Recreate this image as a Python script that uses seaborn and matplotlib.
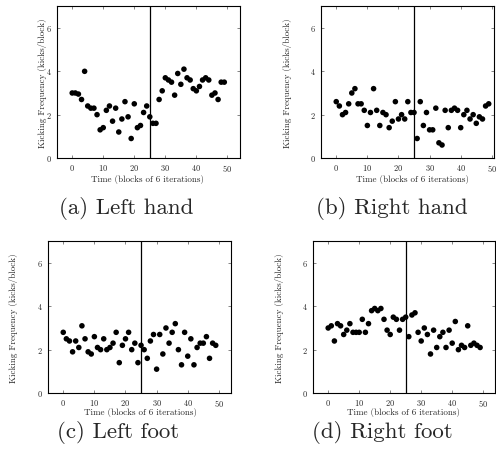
import numpy as np
import pandas as pd
import matplotlib
matplotlib.use("Agg")
import matplotlib.pyplot as plt
import seaborn as sns

# kicking frequency per block (0..49)
time_blocks = list(range(50))
left_hand = [3.0, 3.0, 2.95, 2.7, 4.0, 2.4, 2.3, 2.3, 2.0, 1.3,
             1.4, 2.2, 2.4, 1.7, 2.3, 1.2, 1.8, 2.6, 1.9, 0.9,
             2.5, 1.4, 1.5, 2.1, 2.4, 1.9, 1.6, 1.6, 2.7, 3.1,
             3.7, 3.6, 3.5, 2.9, 3.9, 3.4, 4.1, 3.7, 3.6, 3.2,
             3.1, 3.3, 3.6, 3.7, 3.6, 2.9, 3.0, 2.7, 3.5, 3.5]
right_hand = [2.6, 2.4, 2.0, 2.1, 2.5, 3.0, 3.2, 2.5, 2.5, 2.2,
              1.5, 2.1, 3.2, 2.2, 1.5, 2.1, 2.0, 1.4, 1.7, 2.6,
              1.8, 2.0, 1.8, 2.6, 2.1, 2.1, 0.9, 2.6, 1.5, 2.1,
              1.3, 1.3, 2.3, 0.7, 0.6, 2.2, 1.4, 2.2, 2.3, 2.2,
              1.4, 2.0, 2.2, 1.8, 2.0, 1.6, 1.9, 1.8, 2.4, 2.5]
left_foot = [2.8, 2.5, 2.4, 1.9, 2.4, 2.1, 3.1, 2.5, 1.9, 1.8,
             2.6, 2.1, 2.0, 2.5, 2.0, 2.1, 2.3, 2.8, 1.4, 2.2,
             2.5, 2.8, 2.0, 2.3, 1.4, 2.2, 2.0, 1.6, 2.4, 2.7,
             1.1, 2.7, 1.8, 3.0, 2.3, 2.8, 3.2, 2.0, 1.3, 2.8,
             1.7, 2.5, 1.3, 2.1, 2.3, 2.3, 2.6, 1.6, 2.3, 2.2]
right_foot = [3.0, 3.1, 2.4, 3.2, 3.1, 2.7, 2.9, 3.2, 2.8, 2.8,
              2.8, 3.4, 2.8, 3.2, 3.8, 3.9, 3.8, 3.9, 3.4, 2.9,
              2.7, 3.5, 3.4, 2.9, 3.4, 3.5, 2.6, 3.6, 3.7, 2.8,
              2.4, 3.0, 2.7, 1.8, 2.9, 2.1, 2.6, 2.8, 2.1, 2.9,
              2.3, 3.3, 2.0, 2.2, 2.1, 3.1, 2.2, 2.3, 2.2, 2.1]
captions = ["(a) Left hand", "(b) Right hand", "(c) Left foot", "(d) Right foot"]
switch_block = 25

sns.set_style("ticks")
plt.rcParams['font.family'] = ['cmr10', 'DejaVu Serif']
plt.rcParams['axes.formatter.use_mathtext'] = True

fig = plt.figure(figsize=(4.96, 4.59), dpi=100)

W, H = 496, 459
# left, right, top, bottom in pixels
boxes = [(57, 239.5, 6.3, 158), (321, 494, 6.3, 158),
         (48, 231, 241.3, 393), (313, 495.3, 241.3, 393)]
xlims = [(-4.9, 53.9), (-4.9, 50.7), (-4.9, 53.9), (-4.9, 53.9)]
ylab_x = [-0.077, -0.191, -0.186, -0.183]
xlab_pos = [(0.495, -0.145), (0.53, -0.145), (0.503, -0.13), (0.495, -0.13)]
cap_pos = [(126.5, 208), (392, 208), (118, 432), (382, 432)]
series = [left_hand, right_hand, left_foot, right_foot]

for i, vals in enumerate(series):
    l, r, t, b = boxes[i]
    ax = fig.add_axes([l / W, 1 - b / H, (r - l) / W, (b - t) / H])
    df = pd.DataFrame({"t": time_blocks, "f": vals})
    sns.scatterplot(data=df, x="t", y="f", ax=ax, color="black", s=16,
                    edgecolor="none", linewidth=0, zorder=3)
    ax.axvline(switch_block, color="black", lw=0.9, zorder=2)
    ax.set_xlim(*xlims[i])
    ax.set_ylim(0, 7)
    ax.set_xticks([0, 10, 20, 30, 40, 50])
    ax.set_yticks([0, 2, 4, 6])
    ax.tick_params(direction="in", top=True, right=True, length=2.2,
                   width=0.5, labelsize=6, pad=3.5, color="#555555")
    for sp in ax.spines.values():
        sp.set_linewidth(0.8)
        sp.set_color("black")
    ax.set_xlabel("Time (blocks of 6 iterations)", fontsize=6.5, va="center")
    ax.set_ylabel("Kicking Frequency (kicks/block)", fontsize=6.5, va="center")
    ax.xaxis.set_label_coords(*xlab_pos[i])
    ax.yaxis.set_label_coords(ylab_x[i], 0.49)
    fig.text(cap_pos[i][0] / W, 1 - cap_pos[i][1] / H, captions[i],
             fontsize=16.5, ha="center", va="center")

fig.savefig("out.png", dpi=100)
